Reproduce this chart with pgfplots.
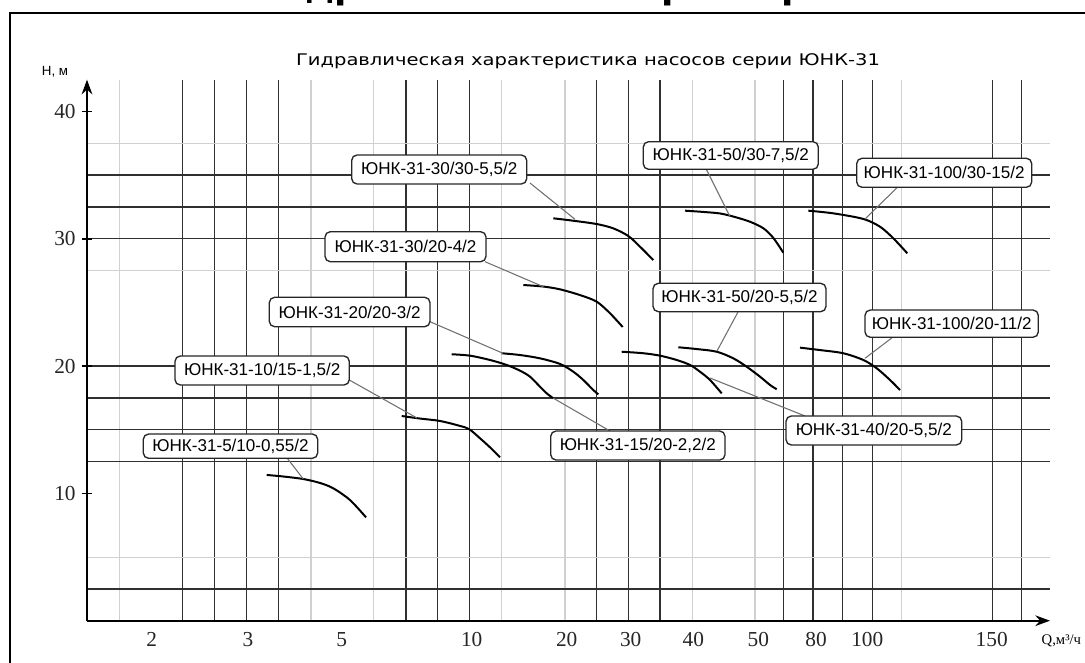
\documentclass[border=0pt]{standalone}
\usepackage{pgfplots}
\pgfplotsset{compat=1.18}
\usepackage{fontspec}
\setmainfont{Liberation Serif}
\newfontfamily\lsans{Liberation Sans}
\newfontfamily\dsans{DejaVu Sans}
\usetikzlibrary{arrows.meta}

\definecolor{gridd}{HTML}{303030}
\definecolor{gridl}{HTML}{D0D0D0}
\definecolor{lead}{HTML}{707070}

\tikzset{
  lbl/.style={draw=black!85, line width=1pt, fill=white, rounded corners=4pt},
}
% box: x1,y1,x2,y2 in pixels, text
\newcommand{\pbox}[5]{%
  \draw[lbl] (#1,#2) rectangle (#3,#4);
  \node[font=\lsans\fontsize{12.8}{14}\selectfont, inner sep=0pt] at ({(#1+#3)/2},{(#2+#4)/2}) {#5};
}

\begin{document}
\begin{tikzpicture}
\begin{axis}[
  at={(65.25pt,30.975pt)}, anchor=south west,
  x=0.75pt, y=9.5475pt,
  xmin=87, xmax=1050, ymin=0, ymax=42.5,
  axis x line=bottom, axis y line=left,
  axis line style={line width=1.5pt, black},
  x axis line style={-{Stealth[length=11pt,width=8pt]}},
  y axis line style={-{Stealth[length=11pt,width=8pt]}},
  xtick={182.3,214.3,246.7,278.3,406,437.7,469.3,596.7,628.3,660,783.3,813,842.7,872.3,992.3,1021.7},
  minor xtick={119.3,311,373.3,501.7,565,692.3,755,901.7},
  ytick={2.5,12.5,15,17.5,20,30,32.5,35},
  minor ytick={5,27.5,37.5},
  xticklabels={}, yticklabels={},
  grid=both,
  major grid style={gridd, line width=1pt},
  minor grid style={gridl, line width=0.8pt},
  major tick length=0pt, minor tick length=0pt,
  extra x ticks={151.7,248,341.7,471.7,566.7,630.7,693.3,758.3,816,867.3,991.7},
  extra x tick labels={2,3,5,10,20,30,40,50,80,100,150},
  extra x tick style={grid=none, major tick length=0pt},
  extra y ticks={10,20,30,40},
  extra y tick labels={10,20,30,40},
  extra y tick style={grid=none, major tick length=8pt, tick align=center,
    tick style={black, line width=1.2pt}},
  /pgf/number format/assume math mode=true,
  ticklabel style={font=\fontsize{16}{18}\selectfont, text=black!85},
  xticklabel style={yshift=-5pt},
  yticklabel style={xshift=-1pt},
  clip=false,
]
% ЮНК-31-5/10-0,55/2
\addplot[black, line width=1.5pt, smooth] coordinates {
 (266.7,11.45) (283,11.33) (303.3,11.13) (320,10.82) (333.3,10.40) (350,9.48) (366,8.12)};
% ЮНК-31-10/15-1,5/2
\addplot[black, line width=1.5pt, smooth] coordinates {
 (401.7,16.08) (420,15.88) (440,15.69) (460,15.30) (469.3,15.04) (480,14.33) (490,13.62) (500,12.84)};
% ЮНК-31-15/20-2,2/2
\addplot[black, line width=1.5pt, smooth] coordinates {
 (451.7,20.93) (470,20.82) (490,20.48) (506.7,20.09) (520,19.64) (530,19.17) (540,18.38) (546.7,17.86) (553.3,17.47)};
% ЮНК-31-20/20-3/2
\addplot[black, line width=1.5pt, smooth] coordinates {
 (501.7,21.01) (520,20.87) (540,20.61) (560,20.17) (573.3,19.56) (583.3,18.91) (593.3,18.12) (598.3,17.78)};
% ЮНК-31-30/20-4/2
\addplot[black, line width=1.5pt, smooth] coordinates {
 (523.3,26.37) (543.3,26.25) (560,26.03) (580,25.58) (596.7,25.06) (610,24.15) (622.7,23.07)};
% ЮНК-31-30/30-5,5/2
\addplot[black, line width=1.5pt, smooth] coordinates {
 (553.3,31.61) (573.3,31.42) (596.7,31.16) (613.3,30.82) (628.3,30.22) (640,29.38) (653.3,28.33)};
% ЮНК-31-40/20-5,5/2
\addplot[black, line width=1.5pt, smooth] coordinates {
 (621.7,21.13) (643.3,21.01) (660,20.82) (676.7,20.48) (690,20.09) (700,19.56) (710,18.91) (721.7,17.86)};
% ЮНК-31-50/20-5,5/2
\addplot[black, line width=1.5pt, smooth] coordinates {
 (678.3,21.48) (696.7,21.34) (716.7,21.13) (733.3,20.61) (746.7,19.95) (760,19.17) (770,18.52) (776.7,18.18)};
% ЮНК-31-50/30-7,5/2
\addplot[black, line width=1.5pt, smooth] coordinates {
 (685,32.21) (700,32.13) (720,31.99) (735,31.71) (750,31.34) (763.3,30.83) (773.3,30.07) (783.3,28.91)};
% ЮНК-31-100/30-15/2
\addplot[black, line width=1.5pt, smooth] coordinates {
 (808.3,32.21) (833.3,32.0) (863.3,31.56) (880,30.95) (893.3,30.04) (907.3,28.86)};
% ЮНК-31-100/20-11/2
\addplot[black, line width=1.5pt, smooth] coordinates {
 (800,21.45) (820,21.26) (843.3,21.01) (863.3,20.48) (876.7,19.83) (890,18.91) (900,18.12)};
\end{axis}

% everything else in reference pixels (y down)
\begin{scope}[x=0.75pt, y=-0.75pt, yshift=496.5pt]
  % frame
  \draw[black, line width=1.6pt] (10,700) -- (10,13) -- (1100,13);
  % cut-off page heading
  \node[anchor=base, font=\dsans\bfseries\fontsize{27}{30}\selectfont] at (603,-1) {Гидравлическая характеристика};
  % chart title
  \node[font=\dsans\fontsize{12}{14}\selectfont] at (588,61) {\scalebox{1.22}[1]{Гидравлическая характеристика насосов серии ЮНК-31}};
  \node[font=\lsans\fontsize{10}{12}\selectfont] at (55,72) {H, м};
  \node[anchor=west, font=\fontsize{11}{13}\selectfont] at (1037,641) {Q,м³/ч};

  % leader lines
  \begin{scope}[lead, line width=0.8pt]
    \draw (530,183) -- (575,219.3);
    \draw (706.7,170) -- (730,216.7);
    \draw (896.7,188) -- (865,219);
    \draw (485,261.7) -- (543.3,286.7);
    \draw (738,312) -- (717,351);
    \draw (430,321.7) -- (503,353.3);
    \draw (891.7,338) -- (865,358.3);
    \draw (349.3,380) -- (417,418);
    \draw (287.3,458.3) -- (303.3,479);
    \draw (610,431) -- (553,398);
    \draw (805,416) -- (710,378);
  \end{scope}

  % labels
  \pbox{351.7}{155}{526.7}{184}{ЮНК-31-30/30-5,5/2}
  \pbox{643.3}{141.7}{818.3}{169.3}{ЮНК-31-50/30-7,5/2}
  \pbox{856.7}{158.3}{1031.7}{187.3}{ЮНК-31-100/30-15/2}
  \pbox{325}{231.7}{486}{261.7}{ЮНК-31-30/20-4/2}
  \pbox{653}{283.3}{826}{311.7}{ЮНК-31-50/20-5,5/2}
  \pbox{269.3}{297.3}{430}{326.7}{ЮНК-31-20/20-3/2}
  \pbox{865}{310}{1038.3}{337.3}{ЮНК-31-100/20-11/2}
  \pbox{175}{356}{349.3}{385}{ЮНК-31-10/15-1,5/2}
  \pbox{143.3}{434}{317.7}{458.3}{ЮНК-31-5/10-0,55/2}
  \pbox{550.7}{431}{725}{460}{ЮНК-31-15/20-2,2/2}
  \pbox{786}{416}{961.7}{445}{ЮНК-31-40/20-5,5/2}
\end{scope}

\pgfresetboundingbox
\useasboundingbox (0,0) rectangle (813.75pt,496.5pt);
\end{tikzpicture}
\end{document}
